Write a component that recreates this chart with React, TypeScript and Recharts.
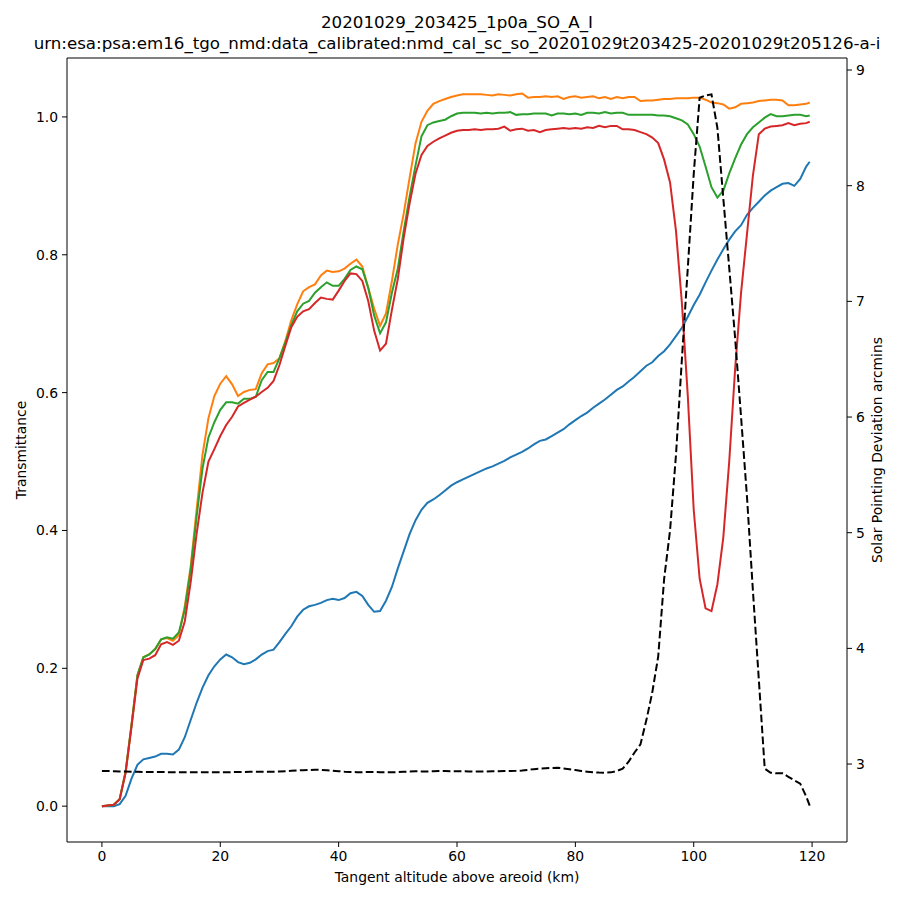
import { ComposedChart, Line, XAxis, YAxis, ReferenceLine } from "recharts";

// tangent altitude (km) of each sample
const altitudeKm = [
  0, 1, 2, 3, 4, 5, 6, 7, 8, 9,
  10, 11, 12, 13, 14, 15, 16, 17, 18, 19,
  20, 21, 22, 23, 24, 25, 26, 27, 28, 29,
  30, 31, 32, 33, 34, 35, 36, 37, 38, 39,
  40, 41, 42, 43, 44, 45, 46, 47, 48, 49,
  50, 51, 52, 53, 54, 55, 56, 57, 58, 59,
  60, 61, 62, 63, 64, 65, 66, 67, 68, 69,
  70, 71, 72, 73, 74, 75, 76, 77, 78, 79,
  80, 81, 82, 83, 84, 85, 86, 87, 88, 89,
  90, 91, 92, 93, 94, 95, 96, 97, 98, 99,
  100, 101, 102, 103, 104, 105, 106, 107, 108, 109,
  110, 111, 112, 113, 114, 115, 116, 117, 118, 119,
  119.6,
];

// transmittance, one array per diffraction order (C0..C3)
const transBlue = [
  0.0, 0.0, 0.0, 0.003, 0.015, 0.04, 0.06, 0.068, 0.07, 0.072,
  0.076, 0.076, 0.075, 0.082, 0.1, 0.125, 0.15, 0.172, 0.19, 0.203,
  0.213, 0.22, 0.216, 0.209, 0.206, 0.208, 0.213, 0.22, 0.225, 0.227,
  0.238, 0.25, 0.261, 0.275, 0.285, 0.29, 0.292, 0.295, 0.299, 0.301,
  0.299, 0.302, 0.309, 0.311, 0.305, 0.292, 0.282, 0.283, 0.298, 0.318,
  0.345, 0.37, 0.395, 0.415, 0.43, 0.44, 0.445, 0.451, 0.458, 0.465,
  0.47, 0.474, 0.478, 0.482, 0.486, 0.49, 0.493, 0.497, 0.501, 0.506,
  0.51, 0.514, 0.519, 0.525, 0.53, 0.532, 0.537, 0.542, 0.547, 0.554,
  0.56, 0.566, 0.571, 0.578, 0.584, 0.59, 0.597, 0.604, 0.609, 0.616,
  0.623, 0.631, 0.639, 0.644, 0.653, 0.66, 0.67, 0.682, 0.694, 0.71,
  0.727, 0.742, 0.76, 0.777, 0.793, 0.808, 0.822, 0.834, 0.843, 0.858,
  0.868, 0.877, 0.886, 0.893, 0.898, 0.903, 0.904, 0.9, 0.91, 0.928,
  0.935,
];

const transOrange = [
  0.0, 0.001, 0.002, 0.01, 0.05, 0.118, 0.19, 0.216, 0.22, 0.228,
  0.242, 0.244, 0.24, 0.248, 0.29, 0.348, 0.43, 0.51, 0.563, 0.595,
  0.613, 0.624, 0.612, 0.595, 0.601, 0.604, 0.605, 0.628, 0.641, 0.643,
  0.65, 0.675, 0.705, 0.728, 0.747, 0.753, 0.757, 0.77, 0.777, 0.775,
  0.776, 0.78, 0.787, 0.793, 0.783, 0.752, 0.722, 0.697, 0.715, 0.762,
  0.815, 0.86, 0.912, 0.962, 0.993, 1.009, 1.019, 1.023, 1.026, 1.029,
  1.031, 1.033, 1.033, 1.033, 1.033, 1.032, 1.031, 1.033, 1.032, 1.031,
  1.033, 1.034, 1.028, 1.029, 1.029, 1.03, 1.029, 1.03, 1.026, 1.029,
  1.03, 1.028, 1.029, 1.03, 1.027, 1.029, 1.026, 1.029, 1.027, 1.029,
  1.029, 1.023, 1.024, 1.024, 1.025, 1.026, 1.026, 1.027, 1.027, 1.027,
  1.028, 1.028, 1.025, 1.021, 1.02, 1.018, 1.012, 1.014, 1.019, 1.02,
  1.021, 1.023, 1.024, 1.025, 1.025, 1.024, 1.017, 1.017, 1.018, 1.019,
  1.021,
];

const transGreen = [
  0.0, 0.001, 0.002, 0.01, 0.05, 0.118, 0.19, 0.216, 0.22, 0.228,
  0.242, 0.245, 0.243, 0.252, 0.285, 0.343, 0.42, 0.49, 0.535, 0.557,
  0.575, 0.586, 0.586, 0.584, 0.591, 0.591, 0.594, 0.618, 0.63, 0.63,
  0.65, 0.673, 0.698, 0.718, 0.729, 0.733, 0.745, 0.753, 0.76, 0.755,
  0.755, 0.765, 0.778, 0.783, 0.779, 0.752, 0.712, 0.686, 0.702, 0.745,
  0.78, 0.835, 0.885, 0.93, 0.972, 0.988, 0.992, 0.994, 0.996, 1.001,
  1.005, 1.006, 1.006, 1.006, 1.005, 1.006, 1.005, 1.006, 1.006, 1.007,
  1.003, 1.004, 1.004, 1.005, 1.005, 1.005, 1.002, 1.005, 1.005, 1.004,
  1.005, 1.003, 1.006, 1.006, 1.005, 1.007, 1.005, 1.006, 1.006, 1.003,
  1.003, 1.003, 1.003, 1.003, 1.002, 1.002, 1.001, 0.998, 0.995, 0.989,
  0.975, 0.957, 0.928, 0.898, 0.883, 0.893, 0.918, 0.94, 0.96, 0.975,
  0.985, 0.992, 0.999, 1.004, 1.001, 1.001, 1.002, 1.003, 1.003, 1.001,
  1.002,
];

const transRed = [
  0.0, 0.001, 0.002, 0.01, 0.048, 0.115, 0.185, 0.212, 0.214, 0.219,
  0.235, 0.238, 0.234, 0.24, 0.268, 0.325, 0.395, 0.455, 0.5, 0.518,
  0.537, 0.553, 0.565, 0.58, 0.585, 0.59, 0.594, 0.601, 0.607, 0.617,
  0.64, 0.668, 0.695, 0.71, 0.718, 0.721, 0.73, 0.738, 0.736, 0.735,
  0.748, 0.762, 0.773, 0.772, 0.762, 0.733, 0.69, 0.661, 0.671, 0.72,
  0.765, 0.825, 0.875, 0.918, 0.945, 0.958, 0.964, 0.969, 0.973, 0.977,
  0.98, 0.981, 0.981, 0.982, 0.981, 0.982, 0.982, 0.983, 0.986, 0.98,
  0.982, 0.983, 0.98, 0.981, 0.978, 0.981, 0.982, 0.983, 0.984, 0.983,
  0.984, 0.983, 0.985, 0.984, 0.987, 0.985, 0.987, 0.987, 0.982, 0.982,
  0.981, 0.978, 0.975, 0.97, 0.962, 0.938, 0.905, 0.835, 0.73, 0.595,
  0.43, 0.33, 0.287, 0.283, 0.322, 0.39, 0.5, 0.635, 0.745, 0.83,
  0.915, 0.975, 0.983, 0.986, 0.987, 0.988, 0.991, 0.988, 0.99, 0.991,
  0.993,
];

// solar pointing deviation (arcmin), right axis
const pointingArcmin = [
  2.94, 2.94, 2.938, 2.936, 2.935, 2.934, 2.933, 2.932, 2.932, 2.931,
  2.931, 2.93, 2.93, 2.93, 2.93, 2.93, 2.93, 2.93, 2.93, 2.93,
  2.93, 2.93, 2.93, 2.931, 2.932, 2.933, 2.934, 2.934, 2.934, 2.934,
  2.935, 2.938, 2.941, 2.944, 2.947, 2.949, 2.95, 2.95, 2.947, 2.943,
  2.938, 2.934, 2.932, 2.93, 2.93, 2.931, 2.931, 2.93, 2.929, 2.929,
  2.93, 2.933, 2.936, 2.937, 2.936, 2.936, 2.938, 2.94, 2.939, 2.938,
  2.938, 2.937, 2.936, 2.935, 2.935, 2.936, 2.937, 2.938, 2.939, 2.94,
  2.941, 2.944, 2.95, 2.956, 2.96, 2.963, 2.966, 2.968, 2.962, 2.955,
  2.948, 2.94, 2.934, 2.929, 2.926, 2.925, 2.928, 2.94, 2.96, 3.02,
  3.1, 3.17, 3.38, 3.62, 3.93, 4.6, 5.02, 5.67, 6.5, 7.29,
  8.1, 8.76, 8.78, 8.79, 8.5, 7.89, 7.29, 6.68, 6.0, 5.31,
  4.5, 3.73, 2.96, 2.925, 2.92, 2.92, 2.89, 2.86, 2.83, 2.72,
  2.64,
];

const xTicks = [0, 20, 40, 60, 80, 100, 120];
const transTicks = [0, 0.2, 0.4, 0.6, 0.8, 1.0];
const pointingTicks = [3, 4, 5, 6, 7, 8, 9];

const rows = altitudeKm.map((alt, i) => ({
  alt,
  blue: transBlue[i],
  orange: transOrange[i],
  green: transGreen[i],
  red: transRed[i],
  pointing: pointingArcmin[i],
}));

const font = "'DejaVu Sans', sans-serif";
const tickStyle = { fill: "#000", fontSize: 13.9, fontFamily: font };
const axisStroke = { stroke: "#000", strokeWidth: 1 };
const xDomain: [number, number] = [-5.9, 125.9];
const transDomain: [number, number] = [-0.052, 1.0855];

const labelBase: React.CSSProperties = {
  position: "absolute",
  fontFamily: font,
  fontSize: 13.9,
  color: "#000",
  whiteSpace: "nowrap",
};

export default function App() {
  return (
    <div style={{ position: "absolute", left: 0, top: 0, width: 900, height: 900, background: "#fff" }}>
      <ComposedChart
        width={900}
        height={900}
        data={rows}
        margin={{ top: 58, right: 0, bottom: 0, left: 0 }}
      >
        <XAxis
          type="number"
          dataKey="alt"
          domain={xDomain}
          ticks={xTicks}
          allowDataOverflow
          height={58}
          tick={tickStyle}
          tickSize={5}
          tickMargin={4}
          axisLine={axisStroke}
          tickLine={axisStroke}
        />
        <YAxis
          yAxisId="trans"
          domain={transDomain}
          ticks={transTicks}
          allowDataOverflow
          width={67}
          tick={tickStyle}
          tickSize={5}
          tickMargin={4}
          tickFormatter={(v: number) => v.toFixed(1)}
          axisLine={axisStroke}
          tickLine={axisStroke}
        />
        <YAxis
          yAxisId="point"
          orientation="right"
          domain={[2.326, 9.104]}
          ticks={pointingTicks}
          allowDataOverflow
          width={53}
          tick={tickStyle}
          tickSize={5}
          tickMargin={4}
          axisLine={axisStroke}
          tickLine={axisStroke}
        />
        {/* top spine */}
        <ReferenceLine yAxisId="trans" y={transDomain[1]} stroke="#000" strokeWidth={1} />
        <Line yAxisId="trans" type="linear" dataKey="blue" stroke="#1f77b4" strokeWidth={2} dot={false} isAnimationActive={false} />
        <Line yAxisId="trans" type="linear" dataKey="orange" stroke="#ff7f0e" strokeWidth={2} dot={false} isAnimationActive={false} />
        <Line yAxisId="trans" type="linear" dataKey="green" stroke="#2ca02c" strokeWidth={2} dot={false} isAnimationActive={false} />
        <Line yAxisId="trans" type="linear" dataKey="red" stroke="#d62728" strokeWidth={2} dot={false} isAnimationActive={false} />
        <Line
          yAxisId="point"
          type="linear"
          dataKey="pointing"
          stroke="#000"
          strokeWidth={2}
          strokeDasharray="7.7 3.3"
          dot={false}
          isAnimationActive={false}
        />
      </ComposedChart>

      <div
        style={{
          ...labelBase,
          fontSize: 16.67,
          lineHeight: "21px",
          left: 457,
          top: 12,
          transform: "translateX(-50%)",
          textAlign: "center",
        }}
      >
        <div>20201029_203425_1p0a_SO_A_I</div>
        <div>urn:esa:psa:em16_tgo_nmd:data_calibrated:nmd_cal_sc_so_20201029t203425-20201029t205126-a-i</div>
      </div>
      <div style={{ ...labelBase, left: 457, top: 877, transform: "translate(-50%, -50%)" }}>
        Tangent altitude above areoid (km)
      </div>
      <div style={{ ...labelBase, left: 21, top: 450, transform: "translate(-50%, -50%) rotate(-90deg)" }}>
        Transmittance
      </div>
      <div style={{ ...labelBase, left: 877, top: 450, transform: "translate(-50%, -50%) rotate(-90deg)" }}>
        Solar Pointing Deviation arcmins
      </div>
    </div>
  );
}
